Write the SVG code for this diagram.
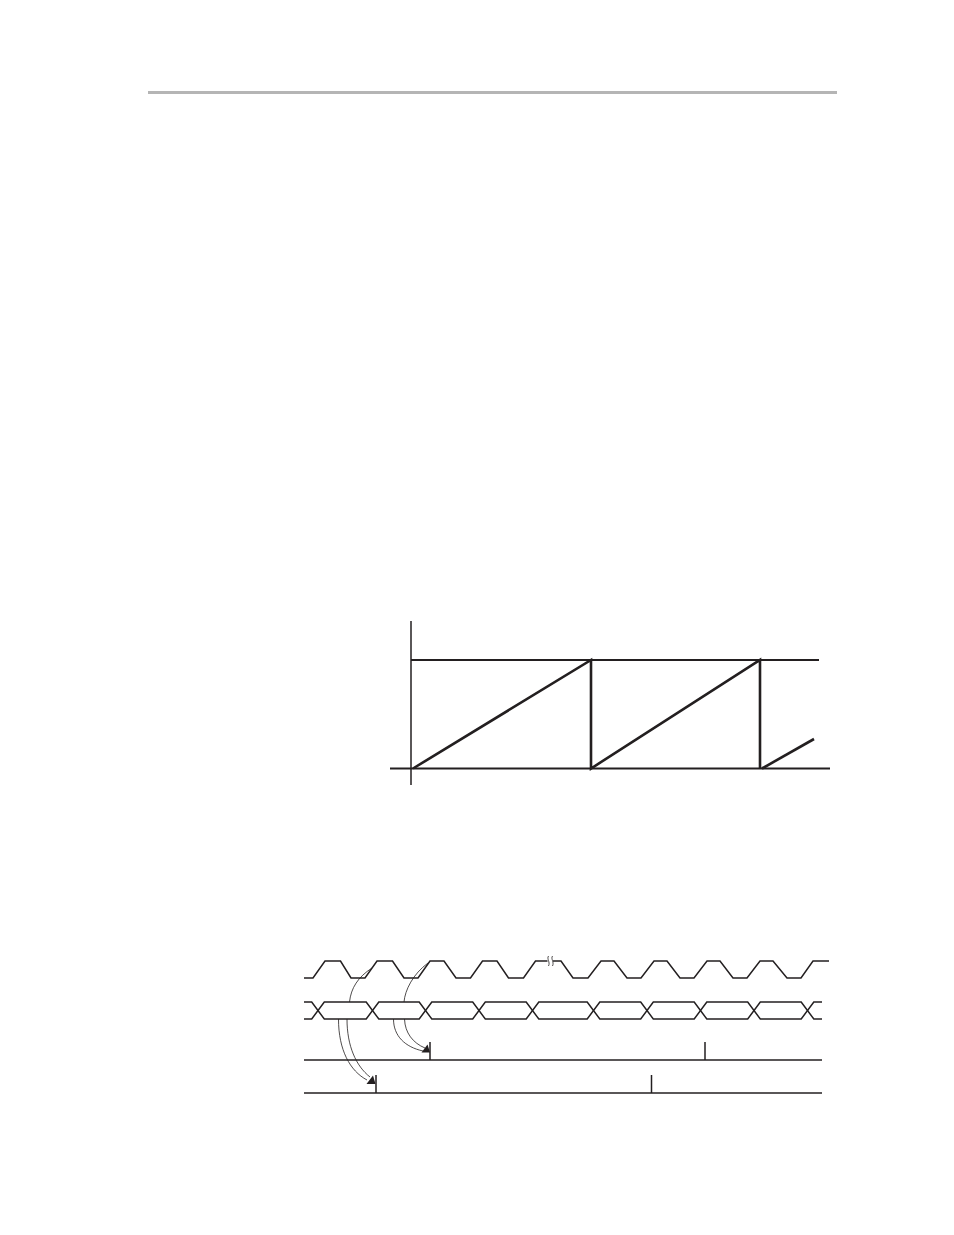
<svg xmlns="http://www.w3.org/2000/svg" width="954" height="1235" viewBox="0 0 954 1235">
<style>
.ln{fill:none;stroke:#231f20;stroke-linejoin:miter;stroke-linecap:butt}
.w1{stroke-width:1.5}
.w2{stroke-width:2}
.w3{stroke-width:2.6}
.thin{fill:none;stroke:#231f20;stroke-width:0.8}
.ah{fill:#231f20;stroke:none}
</style>
<rect width="954" height="1235" fill="#ffffff"/>
<g id="header">
<line x1="148" y1="92.5" x2="837" y2="92.5" stroke="#b5b5b5" stroke-width="3"/>
</g>
<g id="sawtooth-chart">
<line class="ln w1" x1="411" y1="621" x2="411" y2="785"/>
<line class="ln w2" x1="411" y1="660" x2="819" y2="660"/>
<line class="ln w2" x1="390" y1="768.5" x2="830" y2="768.5"/>
<path class="ln w3" d="M413,768.5 L591,660 V768.5 L760,660 V768.5"/>
<path class="ln w3" d="M762,768.5 L814,739"/>
</g>
<g id="clock">
<path class="ln w1" d="M304,978 H313 L325,961 H340.5 L351,978 H365 L377,961 H392.5 L404,978 H418 L430,961 H444 L456,978 H470.5 L482.5,961 H497 L508.5,978 H523.5 L535.5,961 H547.5"/>
<path class="ln w1" d="M553,961 H561 L573,978 H588 L601,961 H614 L627,978 H641 L654,961 H667 L680,978 H694 L707,961 H720 L733,978 H747 L760,961 H773 L787,978 H801 L813,961 H829"/>
<path class="thin" d="M548.5,956 C546.5,959 550.5,962 548.5,966"/>
<path class="thin" d="M552.5,956 C550.5,959 554.5,962 552.5,966"/>
</g>
<g id="data-bus">
<path class="ln w1" d="M304,1002 H311.7 L324.3,1019 H366.2 L378.8,1002 H419.2 L431.8,1019 H472.7 L485.3,1002 H526.2 L538.8,1019 H587.2 L599.8,1002 H640.7 L653.3,1019 H694.2 L706.8,1002 H747.7 L760.3,1019 H801.2 L813.8,1002 H822"/>
<path class="ln w1" d="M304,1019 H311.7 L324.3,1002 H366.2 L378.8,1019 H419.2 L431.8,1002 H472.7 L485.3,1019 H526.2 L538.8,1002 H587.2 L599.8,1019 H640.7 L653.3,1002 H694.2 L706.8,1019 H747.7 L760.3,1002 H801.2 L813.8,1019 H822"/>
</g>
<g id="signal-a">
<line class="ln w1" x1="304" y1="1060" x2="822" y2="1060"/>
<line class="ln w1" x1="430" y1="1042" x2="430" y2="1060"/>
<line class="ln w1" x1="705" y1="1042" x2="705" y2="1060"/>
</g>
<g id="signal-b">
<line class="ln w1" x1="304" y1="1093" x2="822" y2="1093"/>
<line class="ln w1" x1="376" y1="1075" x2="376" y2="1093"/>
<line class="ln w1" x1="651.5" y1="1075" x2="651.5" y2="1093"/>
</g>
<g id="connectors">
<path class="thin" d="M349.5,1002 C351,988 358,977 372,968"/>
<path class="thin" d="M338.5,1019 C338.5,1050 350,1071 367,1080"/>
<path class="thin" d="M347,1019 C347,1046 356,1066 370,1077"/>
<polygon class="ah" points="366.5,1084 375.5,1084 373,1075.5"/>
<path class="thin" d="M404,1002 C405,990 413,974 428,963"/>
<path class="thin" d="M393.5,1019 C393.5,1036 405,1047 423,1051"/>
<path class="thin" d="M404.5,1019 C405,1033 413,1043 425,1048"/>
<polygon class="ah" points="421.5,1052.5 430,1052.5 427.5,1044.5"/>
</g>
</svg>
